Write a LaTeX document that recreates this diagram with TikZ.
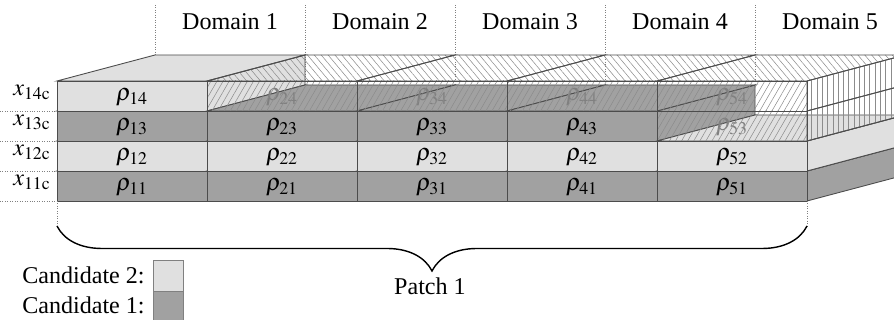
\documentclass[tikz,border=0pt]{standalone}
\usepackage{mathptmx}
\usepackage{fontspec}
\setmainfont{Liberation Serif}
\usepackage{tikz}
\usetikzlibrary{patterns.meta,decorations.pathreplacing,positioning}

\definecolor{candone}{gray}{0.63}
\definecolor{candtwo}{gray}{0.88}
\definecolor{edgegray}{gray}{0.3}
\definecolor{hatchgray}{gray}{0.55}

\begin{document}
\begin{tikzpicture}[x=0.02cm, y=-0.02cm,
    every node/.style={font=\fontsize{13.7}{16}\selectfont, inner sep=0pt},
    cellside/.style={draw=edgegray, line width=0.5pt},
    gapfront/.style={cellside, pattern={Lines[angle=60, distance=3pt, line width=0.3pt]}, pattern color=hatchgray},
    gaptop/.style={cellside, pattern={Lines[angle=-50, distance=3pt, line width=0.3pt]}, pattern color=hatchgray},
    gapside/.style={cellside, pattern={Lines[angle=90, distance=3pt, line width=0.3pt]}, pattern color=hatchgray},
    ghost/.style={text=gray},
    guide/.style={densely dotted, draw=gray, line width=0.4pt}]
  \useasboundingbox (0,0) rectangle (894,320);
  % domain borders at the back
  \foreach \d in {1,...,5} {
    \draw[guide] (5+150*\d,5) -- (5+150*\d,85);
    \node[anchor=base] (dom\d) at (80+150*\d,30) {Domain \d};
  }
  \foreach \r in {1,...,4} {
    \draw[guide] (0,231-30*\r) -- (57,231-30*\r);
    \node[anchor=base east] (x\r) at (51,216-30*\r) {$x_{1\r\mathrm{c}}$};
  }
  % filled cells, left to right and bottom up
  \foreach \c/\n in {1/4, 2/3, 3/3, 4/3, 5/2} {
    \foreach \r in {1,...,\n} {
      \ifodd\r \def\fc{candone}\else \def\fc{candtwo}\fi
      \begin{scope}[shift={(150*\c-93, 201-30*\r)}]
        \draw[cellside, fill=\fc] (150,0) -- (150,30) -- ++(98,-26) -- ++(0,-30) -- cycle;
        \draw[cellside, fill=\fc] (0,0) -- (150,0) -- ++(98,-26) -- ++(-150,0) -- cycle;
        \draw[cellside, fill=\fc] (0,0) rectangle (150,30);
        \node[anchor=base] (rho\c\r) at (75,20) {$\rho_{\c\r}$};
      \end{scope}
    }
  }
  % empty cells, see-through
  \foreach \c/\r in {2/4, 3/4, 4/4, 5/4, 5/3} {
    \begin{scope}[shift={(150*\c-93, 201-30*\r)}]
      \node[ghost, anchor=base] (rho\c\r) at (75,20) {$\rho_{\c\r}$};
      \draw[gapfront] (0,0) rectangle (150,30);
      \ifnum\r=4 \draw[gaptop] (0,0) -- (150,0) -- ++(98,-26) -- ++(-150,0) -- cycle; \fi
      \ifnum\c=5 \draw[gapside] (150,0) -- (150,30) -- ++(98,-26) -- ++(0,-30) -- cycle; \fi
    \end{scope}
  }
  % patch brace
  \draw[guide] (57,201) -- (57,226);
  \draw[guide] (807,201) -- (807,226);
  \coordinate (bl) at (57,226);
  \coordinate (br) at (807,226);
  \draw[decorate, decoration={brace, mirror, amplitude=0.9cm}, line width=0.8pt] (bl) -- (br);
  \node[anchor=base] (patch) at (430,295) {Patch 1};
  % legend
  \node[anchor=base east] (cand2) at (145,284) {Candidate 2:};
  \node[anchor=base east] (cand1) at (145,314) {Candidate 1:};
  \draw[draw=gray, fill=candtwo] (153,260) rectangle (183,291);
  \draw[draw=gray, fill=candone] (153,291) rectangle (183,325);
\end{tikzpicture}
\end{document}
